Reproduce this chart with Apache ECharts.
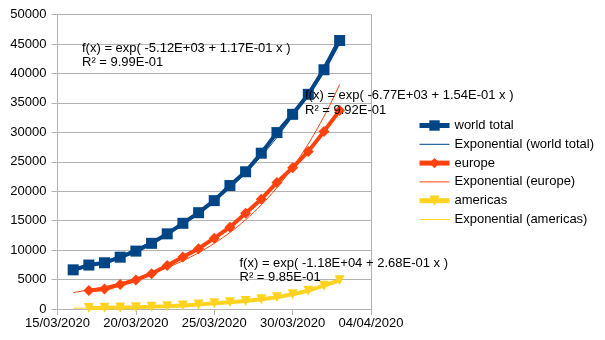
<!DOCTYPE html>
<html>
<head>
<meta charset="utf-8">
<script src="https://cdn.jsdelivr.net/npm/echarts@6/dist/echarts.min.js"></script>
<style>
html,body{margin:0;padding:0;background:#fff;}
#chart{width:605px;height:340px;}
</style>
</head>
<body>
<div id="chart"></div>
<script>
// ---- data ----
const axisStart = '2020-03-15';
const dates = ['2020-03-16','2020-03-17','2020-03-18','2020-03-19','2020-03-20','2020-03-21','2020-03-22','2020-03-23','2020-03-24','2020-03-25','2020-03-26','2020-03-27','2020-03-28','2020-03-29','2020-03-30','2020-03-31','2020-04-01','2020-04-02'];
const worldTotal = [6650, 7460, 7850, 8800, 9830, 11150, 12760, 14550, 16350, 18400, 20960, 23300, 26450, 29950, 33050, 36450, 40620, 45580];
const europe = [null, 3150, 3380, 4150, 4930, 6000, 7400, 8840, 10250, 12020, 13890, 16270, 18650, 21490, 24000, 26760, 30150, 33700];
const americas = [null, 150, 200, 250, 300, 380, 470, 600, 780, 970, 1150, 1360, 1650, 1990, 2500, 3110, 3960, 4880];
const xTickLabels = ['15/03/2020', '20/03/2020', '25/03/2020', '30/03/2020', '04/04/2020'];
const yTicks = [0, 5000, 10000, 15000, 20000, 25000, 30000, 35000, 40000, 45000, 50000];
const seriesNames = ['world total', 'europe', 'americas'];
const trendNames = ['Exponential (world total)', 'Exponential (europe)', 'Exponential (americas)'];
const equations = [
  'f(x) = exp( -5.12E+03 + 1.17E-01 x )\nR² = 9.99E-01',
  'f(x) = exp( -6.77E+03 + 1.54E-01 x )\nR² = 9.92E-01',
  'f(x) = exp( -1.18E+04 + 2.68E-01 x )\nR² = 9.85E-01'
];

// ---- helpers ----
const DAY = 86400000;
const t0 = Date.parse(axisStart);
const dayIdx = dates.map(d => (Date.parse(d) - t0) / DAY);
function pairs(vals){ return vals.map((v,i)=> v==null ? null : [dayIdx[i], v]).filter(p=>p); }
// exponential least-squares trend (as the spreadsheet does)
function expTrend(vals){
  const pts = pairs(vals);
  const n = pts.length;
  let sx=0, sy=0, sxx=0, sxy=0;
  pts.forEach(([x,y])=>{ const ly=Math.log(y); sx+=x; sy+=ly; sxx+=x*x; sxy+=x*ly; });
  const b = (n*sxy - sx*sy)/(n*sxx - sx*sx);
  const a = (sy - b*sx)/n;
  const out = [];
  const x0 = dayIdx[0], x1 = dayIdx[dayIdx.length-1];
  for (let x = x0; x <= x1 + 1e-9; x += 0.25) out.push([x, Math.exp(a + b*x)]);
  return out;
}

const colors = ['#004586', '#ff420e', '#ffd320'];
const symbols = ['rect', 'diamond', 'triangle'];
const rotates = [0, 0, 180];
const symSizes = [11, 11, 10];
const allVals = [worldTotal, europe, americas];

const FONT = '"Liberation Sans", Arial, sans-serif';
const series = [];
allVals.forEach((vals, k) => {
  const s = {
    name: seriesNames[k],
    type: 'line',
    data: pairs(vals),
    symbol: symbols[k],
    symbolRotate: rotates[k],
    symbolSize: symSizes[k],
    showAllSymbol: true,
    lineStyle: { color: colors[k], width: 4 },
    itemStyle: { color: colors[k] },
    emphasis: { disabled: true },
    animation: false,
    z: 2
  };
  if (k === 0) {
    s.markLine = {
      silent: true, symbol: 'none', label: { show: false },
      lineStyle: { color: '#b3b3b3', type: 'solid', width: 1 },
      data: [{ xAxis: 20 }],
      animation: false
    };
  }
  series.push(s);
  series.push({
    name: trendNames[k],
    type: 'line',
    data: expTrend(vals),
    symbol: 'none',
    smooth: false,
    lineStyle: { color: colors[k], width: 1 },
    itemStyle: { color: 'rgba(0,0,0,0)', borderWidth: 0, opacity: 0 },
    emphasis: { disabled: true },
    animation: false,
    z: 3
  });
});

const legendData = [];
for (let k = 0; k < 3; k++) {
  legendData.push({ name: seriesNames[k], lineStyle: { width: 5 } });
  legendData.push({ name: trendNames[k], itemStyle: { opacity: 0, borderWidth: 0 }, lineStyle: { width: 1 } });
}

const chart = echarts.init(document.getElementById('chart'), null, { renderer: 'canvas' });
chart.setOption({
  animation: false,
  textStyle: { fontFamily: FONT },
  grid: { left: 57.5, right: 234, top: 14.5, bottom: 31, containLabel: false },
  xAxis: {
    type: 'value', min: 0, max: 20, interval: 5,
    axisLine: { show: true, onZero: false, lineStyle: { color: '#b3b3b3', width: 1 } },
    axisTick: { show: true, inside: false, length: 6, lineStyle: { color: '#b3b3b3' } },
    splitLine: { show: false },
    axisLabel: { color: '#000', fontSize: 13, fontFamily: FONT, margin: 8,
      formatter: v => xTickLabels[Math.round(v / 5)] }
  },
  yAxis: {
    type: 'value', min: yTicks[0], max: yTicks[yTicks.length-1], interval: yTicks[1] - yTicks[0],
    axisLine: { show: true, lineStyle: { color: '#b3b3b3', width: 1 } },
    axisTick: { show: true, inside: false, length: 6, lineStyle: { color: '#b3b3b3' } },
    splitLine: { show: true, lineStyle: { color: '#b3b3b3', width: 1 } },
    axisLabel: { color: '#000', fontSize: 13, fontFamily: FONT, margin: 11,
      formatter: v => String(v) }
  },
  legend: {
    orient: 'vertical', left: 412, top: 114,
    itemWidth: 30, itemHeight: 13, itemGap: 5.8, padding: 5,
    textStyle: { color: '#000', fontSize: 13, fontFamily: FONT },
    data: legendData
  },
  graphic: [
    { type: 'text', left: 82, top: 41, z: 100, style: { text: equations[0], font: '13px ' + FONT, fill: '#000', lineHeight: 14.5 } },
    { type: 'text', left: 305, top: 88.5, z: 100, style: { text: equations[1], font: '13px ' + FONT, fill: '#000', lineHeight: 14.5 } },
    { type: 'text', left: 239.5, top: 256, z: 100, style: { text: equations[2], font: '13px ' + FONT, fill: '#000', lineHeight: 14.5 } }
  ],
  series: series
});
</script>
</body>
</html>
